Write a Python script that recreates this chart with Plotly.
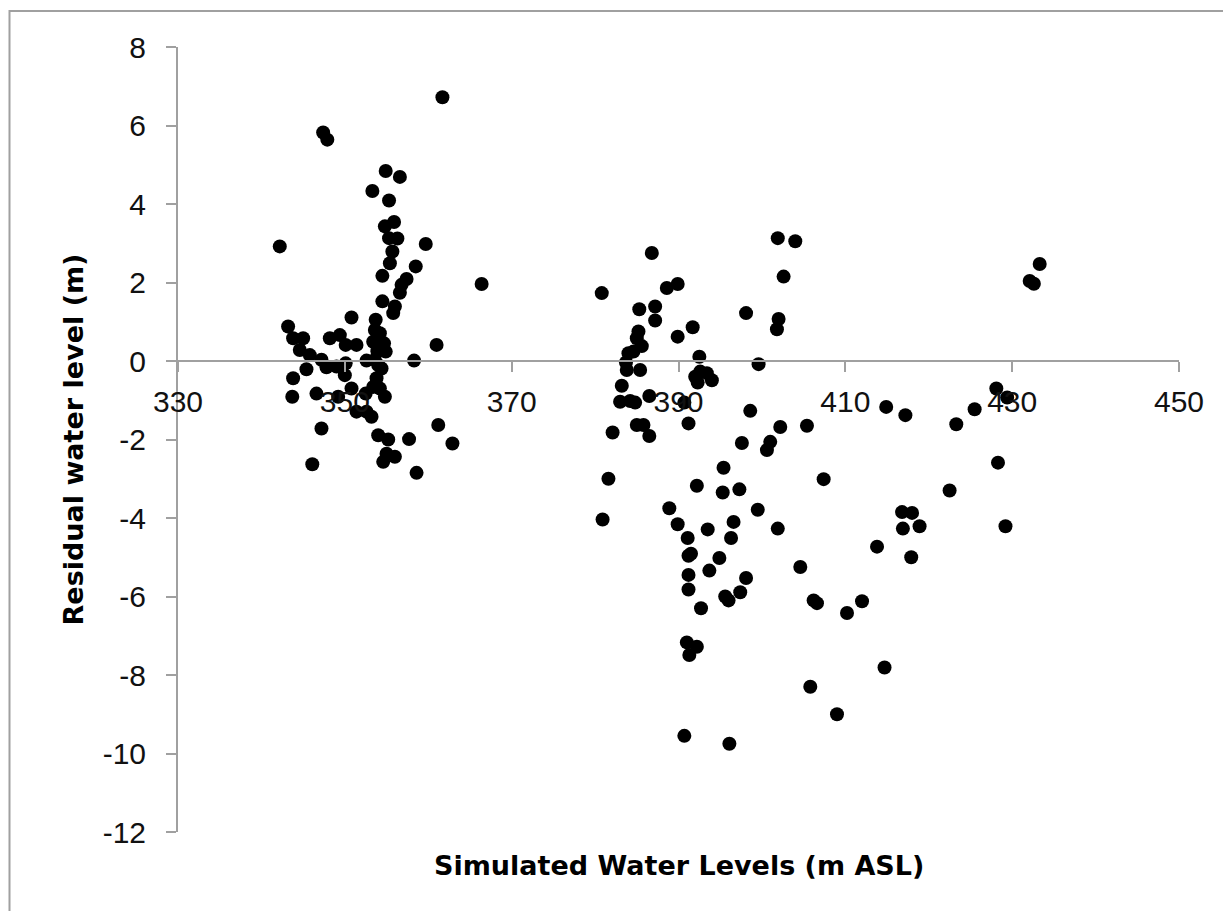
import plotly.graph_objects as go

# Simulated water levels (m ASL)
simulated = [
    342.2, 343.2, 343.8, 345.0, 344.6, 345.8, 345.4, 343.8, 343.7, 346.6,
    347.2, 347.8, 349.0, 348.2, 349.4, 350.1, 351.4, 350.1, 350.0, 350.8,
    349.2, 350.8, 347.2, 346.1, 347.4, 347.9, 351.4, 352.6, 353.2, 352.5,
    352.6, 353.6, 353.4, 353.7, 353.6, 354.2, 354.7, 354.9, 354.4, 353.8,
    353.4, 354.2, 354.8, 354.0, 355.2, 355.0, 356.0, 354.6, 357.7, 358.6,
    361.2, 362.9, 358.3, 361.0, 354.5, 356.0, 355.8, 356.6, 356.8, 357.4,
    354.5, 358.5, 355.4, 355.7, 359.7, 355.3, 356.3, 354.8, 355.9, 355.3,
    353.3, 354.9, 356.6, 361.7, 366.4, 353.9, 354.0,
    380.8, 380.9, 381.6, 382.1, 383.0, 383.2, 383.8, 383.7, 384.0, 384.6,
    385.6, 385.0, 385.2, 385.3, 385.4, 384.8, 384.2, 385.0, 385.8, 386.5,
    386.5, 386.8, 387.2, 387.2, 388.6, 389.9, 389.9, 390.7, 391.2, 391.7,
    392.5, 392.6, 392.0, 393.4, 394.0, 392.3, 398.1, 399.6, 398.6, 397.6,
    401.0, 400.6, 402.2, 405.4, 395.4, 401.9, 404.0, 402.6, 402.0, 401.8,
    392.2, 395.3, 397.3, 388.9, 399.5, 389.9, 393.5, 396.6, 401.9, 396.3,
    391.1, 391.5, 391.2, 394.9, 404.6, 393.7, 391.2, 398.1, 391.2, 397.4,
    395.6, 396.0, 406.2, 406.6, 392.7, 391.0, 392.2, 391.3, 405.8, 409.0,
    390.7, 396.1, 407.4, 433.3, 432.1, 432.6, 428.1, 429.4, 414.9, 417.2,
    425.5, 423.3, 428.3, 422.5, 416.8, 418.0, 416.9, 418.9, 429.2, 413.8,
    417.9, 412.0, 410.2, 414.7,
]

# Residual water level (m)
residual = [
    2.92, 0.88, 0.58, 0.58, 0.28, 0.15, -0.21, -0.44, -0.91, -0.83,
    0.03, -0.16, -0.14, 0.58, 0.66, 0.41, 0.41, -0.06, -0.36, -0.70,
    -0.91, 1.11, -1.72, -2.63, 5.82, 5.64, -1.29, -1.29, -1.42, -0.83,
    0.01, 0.03, 0.49, 1.05, 0.79, 0.71, 0.45, 0.24, -0.19, -0.44,
    -0.66, -0.70, -0.91, -1.89, -2.00, -2.36, -2.44, -2.57, -1.99, -2.85,
    -1.63, -2.10, 0.01, 0.41, 1.52, 1.39, 1.22, 1.74, 1.94, 2.09,
    2.17, 2.41, 2.49, 2.79, 2.98, 3.13, 3.12, 3.43, 3.54, 4.09,
    4.33, 4.84, 4.69, 6.72, 1.96, 0.25, -0.10,
    1.73, -4.04, -3.00, -1.82, -1.04, -0.63, -0.23, -0.04, 0.20, 0.24,
    0.38, 0.58, 0.75, 1.32, -0.23, -1.06, -1.02, -1.63, -1.63, -1.91,
    -0.89, 2.75, 1.39, 1.03, 1.86, 1.96, 0.62, -1.06, -1.59, 0.86,
    0.11, -0.27, -0.40, -0.31, -0.49, -0.55, 1.22, -0.08, -1.27, -2.09,
    -2.06, -2.27, -1.68, -1.65, -2.72, 3.13, 3.05, 2.15, 1.07, 0.81,
    -3.18, -3.35, -3.27, -3.75, -3.79, -4.16, -4.29, -4.10, -4.27, -4.51,
    -4.51, -4.91, -4.96, -5.02, -5.25, -5.34, -5.45, -5.53, -5.82, -5.89,
    -6.00, -6.10, -6.10, -6.17, -6.30, -7.17, -7.28, -7.49, -8.30, -9.00,
    -9.55, -9.75, -3.01, 2.47, 2.04, 1.97, -0.70, -0.93, -1.17, -1.38,
    -1.23, -1.61, -2.59, -3.30, -3.85, -3.87, -4.27, -4.21, -4.21, -4.73,
    -5.00, -6.12, -6.42, -7.81,
]

x_ticks = [330, 350, 370, 390, 410, 430, 450]
y_ticks = [8, 6, 4, 2, 0, -2, -4, -6, -8, -10, -12]

x_title = "Simulated Water Levels (m ASL)"
y_title = "Residual water level (m)"

AXIS_GREY = "#a0a0a0"
TICK_FONT = dict(family="Liberation Sans", size=30, color="#111111")
TITLE_FONT = dict(family="DejaVu Sans", size=27, color="#000000", weight="bold")

fig = go.Figure()
fig.add_trace(go.Scatter(
    x=simulated, y=residual, mode="markers",
    marker=dict(size=14, color="#000000", line=dict(width=0)),
    showlegend=False,
))

# page body adds an 8px offset, so the figure is sized to fit the window
W, H = 1223, 903
L, T = 170, 39
plot_w, plot_h = 1001, 785
R = W - L - plot_w
B = H - T - plot_h

fig.update_layout(
    width=W, height=H,
    margin=dict(l=L, r=R, t=T, b=B, autoexpand=False),
    paper_bgcolor="white", plot_bgcolor="white",
    xaxis=dict(
        range=[330, 450], tickvals=x_ticks, ticktext=[str(v) for v in x_ticks],
        anchor="free", position=12 / 20,
        showline=True, linecolor=AXIS_GREY, linewidth=2,
        ticks="outside", ticklen=10, tickwidth=2, tickcolor=AXIS_GREY,
        showgrid=False, zeroline=False, tickfont=TICK_FONT,
        ticklabelstandoff=4,
    ),
    yaxis=dict(
        range=[-12, 8], tickvals=y_ticks, ticktext=[str(v) for v in y_ticks],
        showline=True, linecolor=AXIS_GREY, linewidth=2,
        ticks="outside", ticklen=10, tickwidth=2, tickcolor=AXIS_GREY,
        showgrid=False, zeroline=False, tickfont=TICK_FONT,
        ticklabelstandoff=14,
        title=dict(text=y_title, font=TITLE_FONT, standoff=11),
    ),
    annotations=[dict(
        text=x_title, xref="paper", yref="paper",
        x=0.5, y=-(857 - (T + plot_h)) / plot_h, xanchor="center", yanchor="middle",
        showarrow=False, font=TITLE_FONT,
    )],
    shapes=[dict(
        type="rect", xref="paper", yref="paper",
        x0=(1.5 - L) / plot_w, x1=1.2,
        y0=-0.3, y1=((T + plot_h) - 3) / plot_h,
        line=dict(color="#a0a0a0", width=2), fillcolor="rgba(0,0,0,0)",
        layer="below",
    )],
)

fig.write_html("out.html")
